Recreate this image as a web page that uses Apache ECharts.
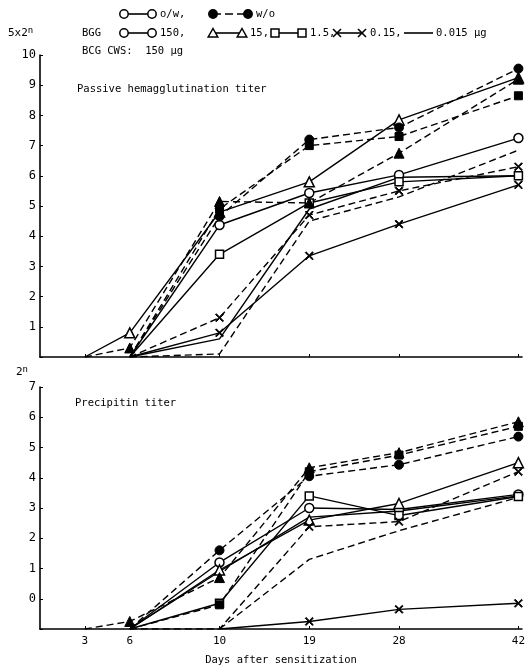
<!DOCTYPE html>
<html>
<head>
<meta charset="utf-8">
<script src="https://cdn.jsdelivr.net/npm/echarts@6/dist/echarts.min.js"></script>
<style>
  html, body { margin: 0; padding: 0; background: #fff; }
  #chart { width: 528px; height: 667px; }
</style>
</head>
<body>
<div id="chart"></div>
<script>
// days after sensitization (x tick labels)
const days = ['3', '6', '10', '19', '28', '42'];
const hemaTicks = [1, 2, 3, 4, 5, 6, 7, 8, 9, 10];
const precipTicks = [0, 1, 2, 3, 4, 5, 6, 7];

// passive hemagglutination titer (5x2^n), o/w = solid, w/o = dashed
const hemaOw150 = [null, 0, 4.37, 5.43, 6.03, 7.25];
const hemaOw15 = [0, 0.8, 4.8, 5.8, 7.85, 9.25];
const hemaOw1_5 = [null, 0, 3.4, 5.1, 5.8, 6.0];
const hemaOw0_15 = [null, 0, 0.8, 3.35, 4.4, 5.7];
const hemaOw0_015 = [null, 0, 0.6, 4.9, 5.95, 6.0];
const hemaWo150 = [null, 0, 4.65, 7.2, 7.6, 9.55];
const hemaWo15 = [0, 0.3, 5.15, 5.1, 6.75, 9.2];
const hemaWo1_5 = [null, 0, 4.9, 7.0, 7.3, 8.65];
const hemaWo0_15 = [null, 0, 1.3, 4.7, 5.5, 6.3];
const hemaWo0_015 = [null, 0, 0.1, 4.5, 5.3, 6.85];

// precipitin titer (2^n)
const precOw150 = [null, -1, 1.2, 3.0, 2.95, 3.45];
const precOw15 = [null, -1, 0.95, 2.6, 3.15, 4.5];
const precOw1_5 = [null, -1, -0.15, 3.4, 2.75, 3.38];
const precOw0_15 = [null, null, -1, -0.75, -0.35, -0.15];
const precOw0_015 = [null, -1, 0.9, 2.7, 2.9, 3.4];
const precWo150 = [null, -1, 1.6, 4.05, 4.43, 5.36];
const precWo15 = [-1, -0.75, 0.7, 4.33, 4.83, 5.85];
const precWo1_5 = [null, -1, -0.2, 4.2, 4.75, 5.7];
const precWo0_15 = [null, -1, -1, 2.38, 2.55, 4.2];
const precWo0_015 = [null, null, -1, 1.3, 2.25, 3.35];

// the original time axis is not linear in days: slot of each day on it
const daySlot = [0.5, 1, 2, 3, 4, 5.33];

const FONT = 'DejaVu Sans Mono';
const CROSS = 'path://M0,1L1,0L5,4L9,0L10,1L6,5L10,9L9,10L5,6L1,10L0,9L4,5Z';
const shapes = {
  circle: { symbol: 'circle', size: 9 },
  triangle: { symbol: 'triangle', size: 10 },
  square: { symbol: 'rect', size: 8 },
  cross: { symbol: CROSS, size: 8 },
  none: { symbol: 'none', size: 0 }
};

function line(name, values, panel, shape, filled, dashed, base) {
  const s = shapes[shape];
  const data = [];
  values.forEach((v, i) => {
    if (v === null) return;
    data.push({ value: [daySlot[i], v], symbol: v === base ? 'none' : s.symbol });
  });
  return {
    name: name,
    type: 'line',
    xAxisIndex: panel,
    yAxisIndex: panel,
    data: data,
    symbolSize: s.size,
    silent: true,
    animation: false,
    lineStyle: { color: '#000', width: 1.4, type: dashed ? [7, 4] : 'solid' },
    itemStyle: (filled || shape === 'cross')
      ? { color: '#000', borderColor: '#000', borderWidth: 1 }
      : { color: '#fff', borderColor: '#000', borderWidth: 1.5 }
  };
}

function dayLabel(v) {
  const i = daySlot.findIndex(d => Math.abs(d - v) < 0.01);
  return i < 0 ? '' : days[i];
}

function xAxisFor(idx, showLabels) {
  return {
    type: 'value', gridIndex: idx, min: 0, max: 5.37,
    axisLine: { onZero: false, lineStyle: { color: '#000', width: 1.6 } },
    axisTick: { show: true, inside: true, length: 3, customValues: daySlot, lineStyle: { color: '#000' } },
    axisLabel: {
      show: showLabels, customValues: daySlot, formatter: dayLabel,
      color: '#000', fontFamily: FONT, fontSize: 11, margin: 7
    },
    splitLine: { show: false },
    name: showLabels ? 'Days after sensitization' : '',
    nameLocation: 'middle', nameGap: 26,
    nameTextStyle: { color: '#000', fontFamily: FONT, fontSize: 10.5 }
  };
}

function yAxisFor(idx, min, max, ticks) {
  return {
    type: 'value', gridIndex: idx, min: min, max: max, interval: 1,
    axisLine: { show: true, onZero: false, lineStyle: { color: '#000', width: 1.6 } },
    axisTick: { show: true, inside: true, length: 3, lineStyle: { color: '#000' } },
    axisLabel: {
      color: '#000', fontFamily: FONT, fontSize: 12, margin: 4,
      formatter: v => ticks.indexOf(v) < 0 ? '' : String(v)
    },
    splitLine: { show: false }
  };
}

// legend drawn as in the original figure
function legendMark(shape, filled, x, y) {
  const style = { fill: filled ? '#000' : '#fff', stroke: '#000', lineWidth: 1.5 };
  if (shape === 'circle') return { type: 'circle', shape: { cx: x, cy: y, r: 4.2 }, style: style };
  if (shape === 'triangle') return { type: 'polygon', shape: { points: [[x, y - 4.5], [x + 4.8, y + 4], [x - 4.8, y + 4]] }, style: style };
  if (shape === 'square') return { type: 'rect', shape: { x: x - 4, y: y - 4, width: 8, height: 8 }, style: style };
  return { type: 'group', children: [
    { type: 'line', shape: { x1: x - 4, y1: y - 4, x2: x + 4, y2: y + 4 }, style: { stroke: '#000', lineWidth: 1.6 } },
    { type: 'line', shape: { x1: x + 4, y1: y - 4, x2: x - 4, y2: y + 4 }, style: { stroke: '#000', lineWidth: 1.6 } }
  ] };
}
function legendItem(shape, filled, dashed, x1, x2, y, label) {
  const els = [{ type: 'line', shape: { x1: x1, y1: y, x2: x2, y2: y },
    style: { stroke: '#000', lineWidth: 1.6, lineDash: dashed ? [8, 4] : null } }];
  if (shape !== 'none') {
    els.push(legendMark(shape, filled, x1, y));
    els.push(legendMark(shape, filled, x2, y));
  }
  els.push(legendText(label, x2 + 8, y));
  return els;
}
function legendText(t, x, y) {
  return { type: 'text', x: x, y: y, style: { text: t, fill: '#000', font: '10.5px ' + FONT, verticalAlign: 'middle' } };
}

const graphics = [].concat(
  legendItem('circle', false, false, 124, 152, 14, 'o/w,'),
  legendItem('circle', true, true, 213, 248, 14, 'w/o'),
  [legendText('BGG', 82, 33)],
  legendItem('circle', false, false, 124, 152, 33, '150,'),
  legendItem('triangle', false, false, 213, 242, 33, '15,'),
  legendItem('square', false, false, 275, 302, 33, '1.5,'),
  legendItem('cross', false, false, 337, 362, 33, '0.15,'),
  legendItem('none', false, false, 404, 433, 33, ''),
  [legendText('0.015 \u00b5g', 436, 33)],
  [legendText('BCG CWS:  150 \u00b5g', 82, 51)],
  [{ type: 'text', x: 8, y: 26, style: { text: '{b|5x2}{s|n}', fill: '#000',
      rich: { b: { fontFamily: FONT, fontSize: 11 }, s: { fontFamily: FONT, fontSize: 9, verticalAlign: 'top', padding: [0, 0, 6, 0] } } } }],
  [{ type: 'text', x: 16, y: 365, style: { text: '{b|2}{s|n}', fill: '#000',
      rich: { b: { fontFamily: FONT, fontSize: 11 }, s: { fontFamily: FONT, fontSize: 9, verticalAlign: 'top', padding: [0, 0, 6, 0] } } } }],
  [legendText('Passive hemagglutination titer', 77, 89)],
  [legendText('Precipitin titer', 75, 403)]
);

const chart = echarts.init(document.getElementById('chart'), null, { renderer: 'canvas' });
chart.setOption({
  backgroundColor: '#fff',
  animation: false,
  grid: [
    { left: 40, right: 6, top: 55, height: 302 },
    { left: 40, right: 6, top: 387, height: 242 }
  ],
  xAxis: [xAxisFor(0, false), xAxisFor(1, true)],
  yAxis: [yAxisFor(0, 0, 10, hemaTicks), yAxisFor(1, -1, 7, precipTicks)],
  graphic: graphics,
  series: [
    line('o/w 150', hemaOw150, 0, 'circle', false, false, 0),
    line('o/w 15', hemaOw15, 0, 'triangle', false, false, 0),
    line('o/w 1.5', hemaOw1_5, 0, 'square', false, false, 0),
    line('o/w 0.15', hemaOw0_15, 0, 'cross', false, false, 0),
    line('o/w 0.015', hemaOw0_015, 0, 'none', false, false, 0),
    line('w/o 150', hemaWo150, 0, 'circle', true, true, 0),
    line('w/o 15', hemaWo15, 0, 'triangle', true, true, 0),
    line('w/o 1.5', hemaWo1_5, 0, 'square', true, true, 0),
    line('w/o 0.15', hemaWo0_15, 0, 'cross', true, true, 0),
    line('w/o 0.015', hemaWo0_015, 0, 'none', true, true, 0),
    line('o/w 150', precOw150, 1, 'circle', false, false, -1),
    line('o/w 15', precOw15, 1, 'triangle', false, false, -1),
    line('o/w 1.5', precOw1_5, 1, 'square', false, false, -1),
    line('o/w 0.15', precOw0_15, 1, 'cross', false, false, -1),
    line('o/w 0.015', precOw0_015, 1, 'none', false, false, -1),
    line('w/o 150', precWo150, 1, 'circle', true, true, -1),
    line('w/o 15', precWo15, 1, 'triangle', true, true, -1),
    line('w/o 1.5', precWo1_5, 1, 'square', true, true, -1),
    line('w/o 0.15', precWo0_15, 1, 'cross', true, true, -1),
    line('w/o 0.015', precWo0_015, 1, 'none', true, true, -1)
  ]
});
window.addEventListener('resize', () => chart.resize());
</script>
</body>
</html>
